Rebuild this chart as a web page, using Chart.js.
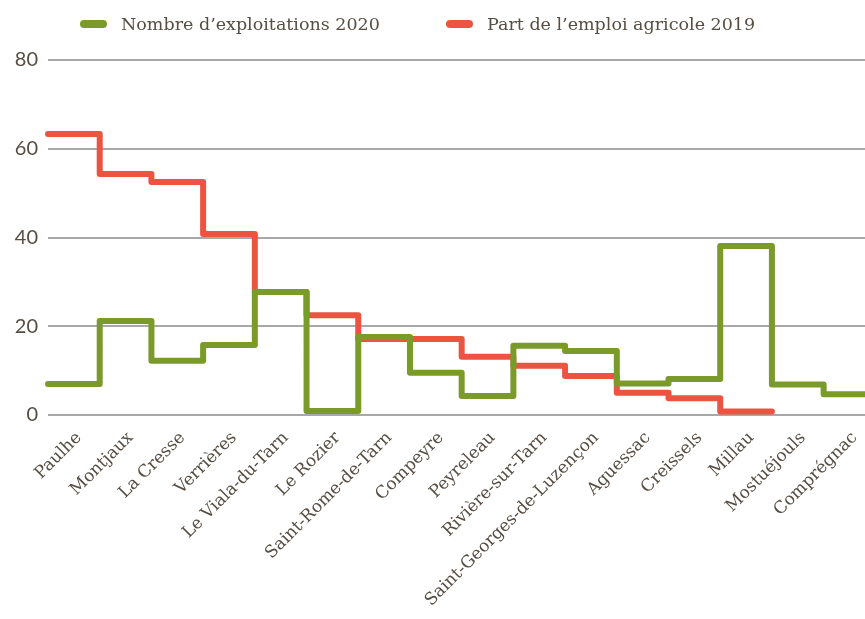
<!DOCTYPE html>
<html lang="fr">
<head>
<meta charset="utf-8">
<title>Exploitations et emploi agricole</title>
<script src="https://cdn.jsdelivr.net/npm/chart.js@4.4.1/dist/chart.umd.min.js"></script>
<style>
    html, body { margin: 0; padding: 0; background: #ffffff; overflow: hidden; }
    .chart-box { position: relative; width: 865px; height: 619px; }
</style>
</head>
<body>
<div class="chart-box"><canvas id="chart"></canvas></div>
<script>
// Data
const communes = [
    'Paulhe', 'Montjaux', 'La Cresse', 'Verrières', 'Le Viala-du-Tarn', 'Le Rozier',
    'Saint-Rome-de-Tarn', 'Compeyre', 'Peyreleau', 'Rivière-sur-Tarn',
    'Saint-Georges-de-Luzençon', 'Aguessac', 'Creissels', 'Millau', 'Mostuéjouls', 'Comprégnac'
];
const exploitations2020 = [7, 21.2, 12.2, 15.8, 27.7, 0.9, 17.6, 9.5, 4.3, 15.6, 14.4, 7.1, 8.1, 38.1, 6.9, 4.7];
const emploiAgricole2019 = [63.3, 54.3, 52.5, 40.8, 27.7, 22.5, 17.1, 17.1, 13.1, 11.1, 8.8, 5.0, 3.8, 0.8];
const yTicks = [0, 20, 40, 60, 80];

const GREEN = '#7a9a29';
const RED = '#ec5441';
const TEXT = '#574d42';
const GRID = '#a8a8a8';
const FONT = "'DejaVu Serif', serif";

// each commune fills one band [i, i+1]
function toSteps(values) {
    const pts = values.map((v, i) => ({ x: i, y: v }));
    pts.push({ x: values.length, y: values[values.length - 1] });
    return pts;
}

// legend drawn above the plot
const topLegend = {
    id: 'topLegend',
    afterDraw(chart) {
        const ctx = chart.ctx;
        const starts = [80, 446];
        chart.data.datasets.forEach((ds, i) => {
            const x = starts[i];
            const y = 24;
            ctx.save();
            ctx.strokeStyle = ds.borderColor;
            ctx.lineWidth = 8;
            ctx.lineCap = 'round';
            ctx.beginPath();
            ctx.moveTo(x + 4, y);
            ctx.lineTo(x + 23, y);
            ctx.stroke();
            ctx.fillStyle = TEXT;
            ctx.font = "17.5px " + FONT;
            ctx.textBaseline = 'middle';
            ctx.fillText(ds.label, x + 41, y + 1);
            ctx.restore();
        });
    }
};

const lineStyle = {
    borderWidth: 6,
    stepped: true,
    pointRadius: 0,
    borderJoinStyle: 'round',
    borderCapStyle: 'round',
    clip: { left: 4, top: 10, right: 0, bottom: 10 }
};

new Chart(document.getElementById('chart'), {
    type: 'line',
    data: {
        datasets: [{
            label: 'Nombre d’exploitations 2020',
            data: toSteps(exploitations2020),
            borderColor: GREEN,
            backgroundColor: GREEN,
            ...lineStyle
        }, {
            label: 'Part de l’emploi agricole 2019',
            data: toSteps(emploiAgricole2019),
            borderColor: RED,
            backgroundColor: RED,
            ...lineStyle
        }]
    },
    options: {
        responsive: true,
        maintainAspectRatio: false,
        animation: false,
        layout: { padding: { top: 60, right: 0, bottom: 0, left: 0 } },
        plugins: {
            legend: { display: false },
            tooltip: { enabled: false }
        },
        scales: {
            x: {
                type: 'linear',
                min: 0,
                max: 15.8,
                grid: { display: false },
                border: { display: false },
                afterBuildTicks: (scale) => {
                    // label sits a little right of the band centre
                    scale.ticks = communes.map((c, i) => ({ value: i + 0.6 }));
                },
                afterFit: (scale) => {
                    scale.height = 204;
                    scale.paddingLeft = 0;
                    scale.paddingRight = 0;
                },
                ticks: {
                    autoSkip: false,
                    minRotation: 45,
                    maxRotation: 45,
                    padding: 5,
                    color: TEXT,
                    font: { family: FONT, size: 17 },
                    callback: (value) => communes[Math.floor(value)]
                }
            },
            y: {
                min: 0,
                max: 80,
                afterBuildTicks: (scale) => {
                    scale.ticks = yTicks.map(v => ({ value: v }));
                },
                afterFit: (scale) => { scale.width = 48; },
                grid: { color: GRID, lineWidth: 2, drawTicks: false },
                border: { display: false },
                ticks: {
                    padding: 10,
                    color: TEXT,
                    font: { family: "Lato, sans-serif", size: 20 }
                }
            }
        }
    },
    plugins: [topLegend]
});
</script>
</body>
</html>
